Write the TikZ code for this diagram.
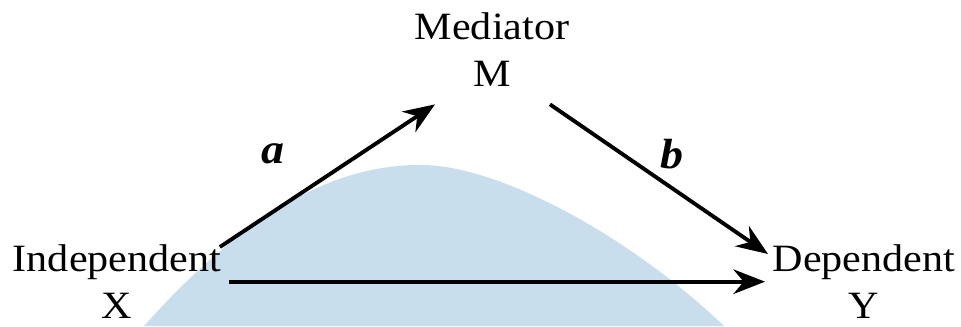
\documentclass[tikz,border=0pt]{standalone}
\usepackage{fontspec}
\setmainfont{Liberation Serif}[FakeStretch=1.09]
\usetikzlibrary{arrows.meta}
\definecolor{wmark}{RGB}{201,222,236}
\begin{document}
\begin{tikzpicture}[
        var/.style={align=center,inner sep=2pt,font=\fontsize{11}{13.4}\selectfont},
        arr/.style={line width=1.1pt,-{Stealth[length=9pt,width=7pt]}},
        lab/.style={font=\fontsize{12}{14}\selectfont\bfseries\itshape}]
    \useasboundingbox (0,0) rectangle (9.61,3.26);
    %% watermark
    \fill[wmark] (1.44,0) .. controls (2.6,1.3) and (3.5,1.62) .. (4.23,1.61)
        .. controls (5.0,1.6) and (6.3,0.9) .. (7.24,0) -- cycle;
    %% variables
    \node[var,anchor=north] (med) at (4.92,3.21) {Mediator\\M};
    \node[var,anchor=north] (ind) at (1.17,0.89) {Independent\\X};
    \node[var,anchor=north] (dep) at (8.64,0.89) {Dependent\\Y};
    %% paths
    \draw[arr] ([shift={(-0.09,-0.10)}]ind.north east) -- ([shift={(0.28,-0.10)}]med.south west);
    \draw[arr] ([shift={(-0.27,-0.10)}]med.south east) -- ([shift={(0.03,-0.17)}]dep.north west);
    \draw[arr] (ind.east) -- (dep.west);
    %% labels
    \node[lab] (la) at (2.73,1.72) {a};
    \node[lab] (lb) at (6.72,1.72) {b};
\end{tikzpicture}
\end{document}
